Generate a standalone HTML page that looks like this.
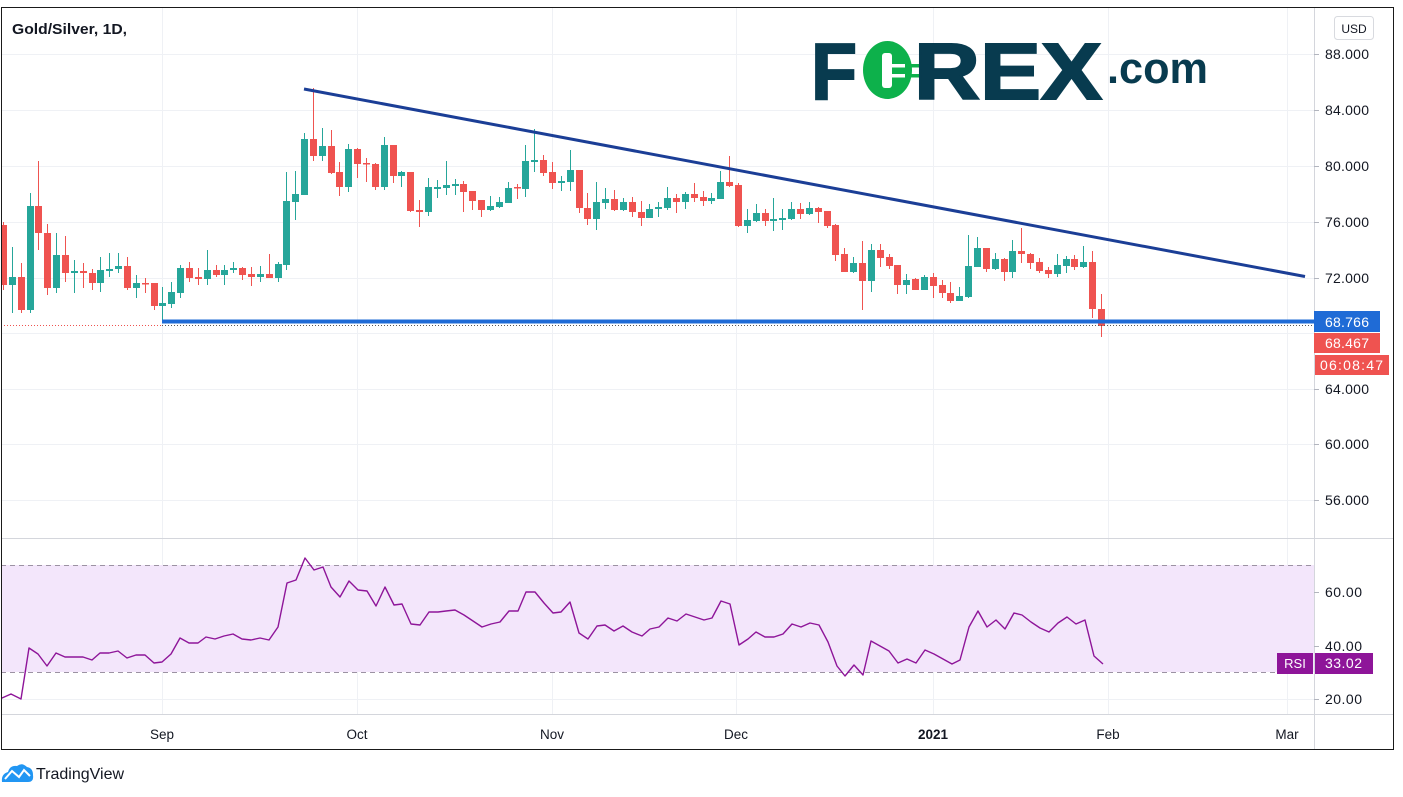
<!DOCTYPE html>
<html><head><meta charset="utf-8"><style>
html,body{margin:0;padding:0;background:#fff;width:1403px;height:797px;overflow:hidden}
svg{display:block}
text{font-family:"Liberation Sans",sans-serif}
</style></head><body>
<svg width="1403" height="797" viewBox="0 0 1403 797" xmlns="http://www.w3.org/2000/svg">
<defs>
<clipPath id="mp"><rect x="1" y="7" width="1313" height="531"/></clipPath>
<clipPath id="rp"><rect x="1" y="539" width="1313" height="175"/></clipPath>
</defs>
<rect width="1403" height="797" fill="#fff"/>
<g stroke="#eff1f5" stroke-width="1">
<line x1="1" y1="54.5" x2="1314" y2="54.5"/>
<line x1="1" y1="110.5" x2="1314" y2="110.5"/>
<line x1="1" y1="166.5" x2="1314" y2="166.5"/>
<line x1="1" y1="222.5" x2="1314" y2="222.5"/>
<line x1="1" y1="278.5" x2="1314" y2="278.5"/>
<line x1="1" y1="333.5" x2="1314" y2="333.5"/>
<line x1="1" y1="389.5" x2="1314" y2="389.5"/>
<line x1="1" y1="444.5" x2="1314" y2="444.5"/>
<line x1="1" y1="500.5" x2="1314" y2="500.5"/>
<line x1="1" y1="592.5" x2="1314" y2="592.5"/>
<line x1="1" y1="646.5" x2="1314" y2="646.5"/>
<line x1="1" y1="699.5" x2="1314" y2="699.5"/>
<line x1="162.5" y1="7" x2="162.5" y2="714"/>
<line x1="357.5" y1="7" x2="357.5" y2="714"/>
<line x1="552.5" y1="7" x2="552.5" y2="714"/>
<line x1="736.5" y1="7" x2="736.5" y2="714"/>
<line x1="933.5" y1="7" x2="933.5" y2="714"/>
<line x1="1108.5" y1="7" x2="1108.5" y2="714"/>
<line x1="1287.5" y1="7" x2="1287.5" y2="714"/>
</g>

<g>
<text x="811" y="99" font-size="80" font-weight="bold" fill="#083b4f" stroke="#083b4f" stroke-width="2" textLength="46" lengthAdjust="spacingAndGlyphs">F</text>
<ellipse cx="887.5" cy="70" rx="24.5" ry="29" fill="#0db14b"/>
<rect x="882" y="53" width="10" height="35" rx="3" fill="#fff"/>
<rect x="892" y="64" width="13" height="3.5" fill="#fff"/>
<rect x="892" y="74" width="13" height="3.5" fill="#fff"/>
<rect x="905" y="64" width="22" height="3.5" fill="#0db14b"/>
<rect x="905" y="74" width="22" height="3.5" fill="#0db14b"/>
<text x="914" y="99" font-size="80" font-weight="bold" fill="#083b4f" stroke="#083b4f" stroke-width="2" textLength="188" lengthAdjust="spacingAndGlyphs">REX</text>
<text x="1107" y="83" font-size="44" font-weight="bold" fill="#083b4f" textLength="101" lengthAdjust="spacingAndGlyphs">.com</text>
</g>

<g clip-path="url(#mp)">
<g fill="#26a69a">
<rect x="12" y="247" width="1" height="66"/><rect x="9" y="277" width="7" height="8"/>
<rect x="30" y="193" width="1" height="120"/><rect x="27" y="206" width="7" height="104"/>
<rect x="56" y="233" width="1" height="60"/><rect x="53" y="255" width="7" height="33"/>
<rect x="74" y="260" width="1" height="33"/><rect x="71" y="271" width="7" height="2"/>
<rect x="100" y="257" width="1" height="35"/><rect x="97" y="270" width="7" height="13"/>
<rect x="109" y="253" width="1" height="24"/><rect x="106" y="269" width="7" height="2"/>
<rect x="118" y="253" width="1" height="20"/><rect x="115" y="266" width="7" height="3"/>
<rect x="136" y="275" width="1" height="23"/><rect x="133" y="283" width="7" height="5"/>
<rect x="162" y="287" width="1" height="33"/><rect x="159" y="303" width="7" height="3"/>
<rect x="171" y="282" width="1" height="26"/><rect x="168" y="292" width="7" height="12"/>
<rect x="180" y="265" width="1" height="33"/><rect x="177" y="268" width="7" height="25"/>
<rect x="207" y="250" width="1" height="35"/><rect x="204" y="270" width="7" height="9"/>
<rect x="224" y="265" width="1" height="20"/><rect x="221" y="270" width="7" height="5"/>
<rect x="233" y="262" width="1" height="11"/><rect x="230" y="268" width="7" height="2"/>
<rect x="260" y="266" width="1" height="16"/><rect x="257" y="274" width="7" height="3"/>
<rect x="278" y="262" width="1" height="20"/><rect x="275" y="264" width="7" height="14"/>
<rect x="286" y="172" width="1" height="98"/><rect x="283" y="201" width="7" height="64"/>
<rect x="295" y="171" width="1" height="49"/><rect x="292" y="194" width="7" height="8"/>
<rect x="304" y="133" width="1" height="62"/><rect x="301" y="139" width="7" height="56"/>
<rect x="322" y="128" width="1" height="33"/><rect x="319" y="146" width="7" height="10"/>
<rect x="348" y="144" width="1" height="48"/><rect x="345" y="149" width="7" height="38"/>
<rect x="384" y="137" width="1" height="53"/><rect x="381" y="145" width="7" height="42"/>
<rect x="401" y="171" width="1" height="16"/><rect x="398" y="172" width="7" height="4"/>
<rect x="428" y="178" width="1" height="38"/><rect x="425" y="187" width="7" height="25"/>
<rect x="437" y="180" width="1" height="18"/><rect x="434" y="187" width="7" height="2"/>
<rect x="446" y="161" width="1" height="34"/><rect x="443" y="185" width="7" height="3"/>
<rect x="455" y="179" width="1" height="16"/><rect x="452" y="184" width="7" height="2"/>
<rect x="490" y="196" width="1" height="15"/><rect x="487" y="206" width="7" height="4"/>
<rect x="499" y="197" width="1" height="11"/><rect x="496" y="202" width="7" height="5"/>
<rect x="508" y="182" width="1" height="21"/><rect x="505" y="188" width="7" height="15"/>
<rect x="525" y="145" width="1" height="52"/><rect x="522" y="161" width="7" height="28"/>
<rect x="534" y="129" width="1" height="43"/><rect x="531" y="160" width="7" height="2"/>
<rect x="561" y="176" width="1" height="15"/><rect x="558" y="181" width="7" height="2"/>
<rect x="570" y="150" width="1" height="41"/><rect x="567" y="170" width="7" height="12"/>
<rect x="596" y="182" width="1" height="48"/><rect x="593" y="202" width="7" height="17"/>
<rect x="605" y="188" width="1" height="21"/><rect x="602" y="199" width="7" height="4"/>
<rect x="623" y="198" width="1" height="13"/><rect x="620" y="202" width="7" height="8"/>
<rect x="649" y="204" width="1" height="14"/><rect x="646" y="209" width="7" height="9"/>
<rect x="658" y="202" width="1" height="15"/><rect x="655" y="207" width="7" height="2"/>
<rect x="667" y="187" width="1" height="23"/><rect x="664" y="198" width="7" height="10"/>
<rect x="685" y="192" width="1" height="17"/><rect x="682" y="194" width="7" height="8"/>
<rect x="711" y="193" width="1" height="11"/><rect x="708" y="198" width="7" height="3"/>
<rect x="720" y="171" width="1" height="28"/><rect x="717" y="182" width="7" height="17"/>
<rect x="747" y="209" width="1" height="24"/><rect x="744" y="220" width="7" height="6"/>
<rect x="756" y="204" width="1" height="18"/><rect x="753" y="213" width="7" height="8"/>
<rect x="773" y="198" width="1" height="33"/><rect x="770" y="219" width="7" height="2"/>
<rect x="782" y="209" width="1" height="21"/><rect x="779" y="218" width="7" height="2"/>
<rect x="791" y="202" width="1" height="18"/><rect x="788" y="209" width="7" height="10"/>
<rect x="809" y="202" width="1" height="13"/><rect x="806" y="208" width="7" height="6"/>
<rect x="853" y="257" width="1" height="16"/><rect x="850" y="263" width="7" height="9"/>
<rect x="871" y="244" width="1" height="48"/><rect x="868" y="250" width="7" height="31"/>
<rect x="906" y="274" width="1" height="20"/><rect x="903" y="280" width="7" height="5"/>
<rect x="924" y="275" width="1" height="15"/><rect x="921" y="277" width="7" height="13"/>
<rect x="959" y="287" width="1" height="14"/><rect x="956" y="296" width="7" height="5"/>
<rect x="968" y="235" width="1" height="63"/><rect x="965" y="266" width="7" height="31"/>
<rect x="977" y="237" width="1" height="30"/><rect x="974" y="248" width="7" height="19"/>
<rect x="995" y="253" width="1" height="17"/><rect x="992" y="259" width="7" height="10"/>
<rect x="1012" y="240" width="1" height="38"/><rect x="1009" y="251" width="7" height="21"/>
<rect x="1057" y="254" width="1" height="23"/><rect x="1054" y="265" width="7" height="9"/>
<rect x="1066" y="256" width="1" height="17"/><rect x="1063" y="259" width="7" height="7"/>
<rect x="1083" y="246" width="1" height="22"/><rect x="1080" y="262" width="7" height="5"/>
</g>
<g fill="#ef5350">
<rect x="3" y="222" width="1" height="68"/><rect x="0" y="225" width="7" height="60"/>
<rect x="21" y="263" width="1" height="50"/><rect x="18" y="277" width="7" height="33"/>
<rect x="38" y="161" width="1" height="89"/><rect x="35" y="206" width="7" height="27"/>
<rect x="47" y="224" width="1" height="71"/><rect x="44" y="233" width="7" height="55"/>
<rect x="65" y="236" width="1" height="46"/><rect x="62" y="255" width="7" height="18"/>
<rect x="83" y="263" width="1" height="25"/><rect x="80" y="271" width="7" height="2"/>
<rect x="92" y="269" width="1" height="21"/><rect x="89" y="273" width="7" height="10"/>
<rect x="127" y="257" width="1" height="33"/><rect x="124" y="266" width="7" height="22"/>
<rect x="145" y="278" width="1" height="15"/><rect x="142" y="283" width="7" height="1.5"/>
<rect x="154" y="283" width="1" height="27"/><rect x="151" y="283" width="7" height="23"/>
<rect x="189" y="262" width="1" height="20"/><rect x="186" y="268" width="7" height="10"/>
<rect x="198" y="268" width="1" height="17"/><rect x="195" y="277" width="7" height="2"/>
<rect x="216" y="265" width="1" height="12"/><rect x="213" y="270" width="7" height="5"/>
<rect x="242" y="267" width="1" height="13"/><rect x="239" y="268" width="7" height="7"/>
<rect x="251" y="267" width="1" height="19"/><rect x="248" y="274" width="7" height="3"/>
<rect x="269" y="254" width="1" height="24"/><rect x="266" y="274" width="7" height="4"/>
<rect x="313" y="88" width="1" height="73"/><rect x="310" y="139" width="7" height="17"/>
<rect x="331" y="130" width="1" height="44"/><rect x="328" y="146" width="7" height="27"/>
<rect x="339" y="162" width="1" height="34"/><rect x="336" y="172" width="7" height="15"/>
<rect x="357" y="148" width="1" height="30"/><rect x="354" y="149" width="7" height="15"/>
<rect x="366" y="158" width="1" height="24"/><rect x="363" y="163" width="7" height="1.5"/>
<rect x="375" y="163" width="1" height="27"/><rect x="372" y="164" width="7" height="23"/>
<rect x="393" y="145" width="1" height="38"/><rect x="390" y="145" width="7" height="31"/>
<rect x="410" y="172" width="1" height="40"/><rect x="407" y="172" width="7" height="39"/>
<rect x="419" y="200" width="1" height="27"/><rect x="416" y="210" width="7" height="2"/>
<rect x="463" y="181" width="1" height="31"/><rect x="460" y="184" width="7" height="8"/>
<rect x="472" y="191" width="1" height="19"/><rect x="469" y="191" width="7" height="10"/>
<rect x="481" y="200" width="1" height="17"/><rect x="478" y="200" width="7" height="10"/>
<rect x="517" y="184" width="1" height="15"/><rect x="514" y="187" width="7" height="1.5"/>
<rect x="543" y="155" width="1" height="21"/><rect x="540" y="160" width="7" height="13"/>
<rect x="552" y="162" width="1" height="27"/><rect x="549" y="172" width="7" height="11"/>
<rect x="579" y="170" width="1" height="43"/><rect x="576" y="170" width="7" height="38"/>
<rect x="587" y="193" width="1" height="32"/><rect x="584" y="208" width="7" height="11"/>
<rect x="614" y="190" width="1" height="21"/><rect x="611" y="199" width="7" height="11"/>
<rect x="632" y="197" width="1" height="20"/><rect x="629" y="202" width="7" height="10"/>
<rect x="641" y="201" width="1" height="25"/><rect x="638" y="212" width="7" height="6"/>
<rect x="676" y="194" width="1" height="19"/><rect x="673" y="198" width="7" height="4"/>
<rect x="694" y="183" width="1" height="19"/><rect x="691" y="194" width="7" height="4"/>
<rect x="703" y="191" width="1" height="15"/><rect x="700" y="197" width="7" height="4"/>
<rect x="729" y="156" width="1" height="31"/><rect x="726" y="182" width="7" height="4"/>
<rect x="738" y="183" width="1" height="44"/><rect x="735" y="185" width="7" height="41"/>
<rect x="765" y="209" width="1" height="17"/><rect x="762" y="213" width="7" height="8"/>
<rect x="800" y="203" width="1" height="16"/><rect x="797" y="209" width="7" height="5"/>
<rect x="818" y="207" width="1" height="16"/><rect x="815" y="208" width="7" height="4"/>
<rect x="827" y="211" width="1" height="17"/><rect x="824" y="211" width="7" height="15"/>
<rect x="835" y="224" width="1" height="37"/><rect x="832" y="225" width="7" height="30"/>
<rect x="844" y="248" width="1" height="24"/><rect x="841" y="254" width="7" height="18"/>
<rect x="862" y="241" width="1" height="69"/><rect x="859" y="263" width="7" height="18"/>
<rect x="880" y="244" width="1" height="23"/><rect x="877" y="250" width="7" height="8"/>
<rect x="889" y="254" width="1" height="15"/><rect x="886" y="257" width="7" height="9"/>
<rect x="897" y="265" width="1" height="29"/><rect x="894" y="265" width="7" height="20"/>
<rect x="915" y="278" width="1" height="12"/><rect x="912" y="279" width="7" height="11"/>
<rect x="933" y="273" width="1" height="25"/><rect x="930" y="277" width="7" height="9"/>
<rect x="942" y="280" width="1" height="18"/><rect x="939" y="285" width="7" height="8"/>
<rect x="950" y="282" width="1" height="21"/><rect x="947" y="293" width="7" height="8"/>
<rect x="986" y="248" width="1" height="24"/><rect x="983" y="248" width="7" height="21"/>
<rect x="1004" y="258" width="1" height="23"/><rect x="1001" y="259" width="7" height="13"/>
<rect x="1021" y="228" width="1" height="35"/><rect x="1018" y="251" width="7" height="3"/>
<rect x="1030" y="253" width="1" height="16"/><rect x="1027" y="254" width="7" height="9"/>
<rect x="1039" y="258" width="1" height="15"/><rect x="1036" y="262" width="7" height="9"/>
<rect x="1048" y="267" width="1" height="11"/><rect x="1045" y="270" width="7" height="4"/>
<rect x="1074" y="255" width="1" height="15"/><rect x="1071" y="259" width="7" height="8"/>
<rect x="1092" y="251" width="1" height="67"/><rect x="1089" y="262" width="7" height="47"/>
<rect x="1101" y="294" width="1" height="43"/><rect x="1098" y="309" width="7" height="17"/>
</g>
<line x1="304" y1="89" x2="1305" y2="276.5" stroke="#1b3e96" stroke-width="3"/>
<rect x="162" y="319.5" width="1152" height="4" fill="#1f6bd6"/>
<line x1="1" y1="325.5" x2="162" y2="325.5" stroke="#ef5350" stroke-width="1" stroke-dasharray="1,2"/>
<line x1="162" y1="325.5" x2="1314" y2="325.5" stroke="#555" stroke-width="1" stroke-dasharray="1,2"/>
</g>

<g clip-path="url(#rp)">
<rect x="1" y="565" width="1313" height="107" fill="#f3e6fb"/>
<line x1="1" y1="565.5" x2="1314" y2="565.5" stroke="#9c92a3" stroke-dasharray="5,4"/>
<line x1="1" y1="672.5" x2="1314" y2="672.5" stroke="#9c92a3" stroke-dasharray="5,4"/>
<polyline fill="none" stroke="#8e1599" stroke-width="1.4" stroke-linejoin="round" points="0,699 2,698 11,694 21,699 29,648 38,654 47,666 56,653 65,657 74,657 83,657 92,660 100,653 109,653 118,651 127,658 136,655 145,655 154,663 162,662 171,654 180,638 189,643 198,643 206,637 215,639 224,636 233,634 242,639 251,640 260,638 269,640 278,627 287,583 296,580 305,558 314,570 323,567 331,587 340,597 349,581 358,590 367,591 376,606 385,587 394,605 402,604 411,624 420,625 429,612 438,612 446,611 455,610 464,615 473,621 482,627 491,624 500,622 509,611 518,611 526,592 535,592 544,603 553,613 561,612 570,602 579,633 588,639 597,626 605,625 614,631 623,626 632,632 642,636 650,629 659,627 668,618 677,621 686,614 695,617 704,620 712,618 721,601 730,604 739,645 748,639 756,632 765,637 774,637 783,634 792,624 801,627 810,623 819,625 828,642 837,666 845,676 854,665 863,675 871,641 880,646 889,651 898,663 907,659 916,663 925,650 934,654 943,659 952,664 960,660 969,627 978,611 987,627 996,620 1005,629 1014,613 1022,615 1031,622 1040,628 1049,632 1058,623 1067,617 1076,624 1085,620 1094,656 1103,664"/>
</g>

<line x1="1" y1="538.5" x2="1394" y2="538.5" stroke="#d4d6dc"/>
<line x1="1" y1="714.5" x2="1394" y2="714.5" stroke="#d4d6dc"/>
<line x1="1314.5" y1="7" x2="1314.5" y2="750" stroke="#d4d6dc"/>

<text x="12" y="34" font-size="15" font-weight="bold" fill="#131722" textLength="115" lengthAdjust="spacingAndGlyphs">Gold/Silver, 1D,</text>

<rect x="1334.5" y="16.5" width="39" height="23" rx="3" fill="#fff" stroke="#d8dadf"/>
<text x="1354" y="33" font-size="12" fill="#131722" text-anchor="middle">USD</text>

<g font-size="14" fill="#131722">
<text x="1325" y="59" textLength="44">88.000</text>
<text x="1325" y="115" textLength="44">84.000</text>
<text x="1325" y="171" textLength="44">80.000</text>
<text x="1325" y="227" textLength="44">76.000</text>
<text x="1325" y="283" textLength="44">72.000</text>
<text x="1325" y="394" textLength="44">64.000</text>
<text x="1325" y="449" textLength="44">60.000</text>
<text x="1325" y="505" textLength="44">56.000</text>
<text x="1325" y="597" textLength="37">60.00</text>
<text x="1325" y="651" textLength="37">40.00</text>
<text x="1325" y="704" textLength="37">20.00</text>
</g>
<g stroke="#b2b5be">
<line x1="1314" y1="54.5" x2="1319" y2="54.5"/>
<line x1="1314" y1="110.5" x2="1319" y2="110.5"/>
<line x1="1314" y1="166.5" x2="1319" y2="166.5"/>
<line x1="1314" y1="222.5" x2="1319" y2="222.5"/>
<line x1="1314" y1="278.5" x2="1319" y2="278.5"/>
<line x1="1314" y1="389.5" x2="1319" y2="389.5"/>
<line x1="1314" y1="444.5" x2="1319" y2="444.5"/>
<line x1="1314" y1="500.5" x2="1319" y2="500.5"/>
<line x1="1314" y1="592.5" x2="1319" y2="592.5"/>
<line x1="1314" y1="646.5" x2="1319" y2="646.5"/>
<line x1="1314" y1="699.5" x2="1319" y2="699.5"/>
</g>

<rect x="1314" y="311" width="66" height="21" fill="#1f6bd6"/>
<text x="1325" y="327" font-size="14" fill="#fff" textLength="44">68.766</text>
<rect x="1314" y="333" width="66" height="20" fill="#ef5350"/>
<text x="1325" y="348" font-size="14" fill="#fff" textLength="44">68.467</text>
<rect x="1315" y="355" width="74" height="20" fill="#ef5350"/>
<text x="1320" y="370" font-size="14" fill="#fff" textLength="63">06:08:47</text>

<rect x="1277" y="653" width="36" height="21" fill="#8e1599"/>
<text x="1295" y="668" font-size="13" fill="#fff" text-anchor="middle">RSI</text>
<rect x="1315" y="653" width="58" height="21" fill="#8e1599"/>
<text x="1325" y="668" font-size="14" fill="#fff" textLength="37">33.02</text>

<g font-size="13.5" fill="#131722" text-anchor="middle">
<text x="162" y="739">Sep</text>
<text x="357" y="739">Oct</text>
<text x="552" y="739">Nov</text>
<text x="736" y="739">Dec</text>
<text x="933" y="739" font-weight="bold">2021</text>
<text x="1108" y="739">Feb</text>
<text x="1287" y="739">Mar</text>
</g>

<rect x="1.5" y="7.5" width="1392" height="742" fill="none" stroke="#1a1a1a" stroke-width="1"/>

<g>
<path d="M2,782 Q1,774 8,772 Q10,765 17,766 Q22,762 27,767 Q33,768 33,775 Q34,782 28,782 Z" fill="#2196f3"/>
<polyline points="5,779 12,771 19,777 24,770 30,776" fill="none" stroke="#fff" stroke-width="2"/>
<text x="36" y="779" font-size="16" fill="#131722">TradingView</text>
</g>
</svg>
</body></html>
